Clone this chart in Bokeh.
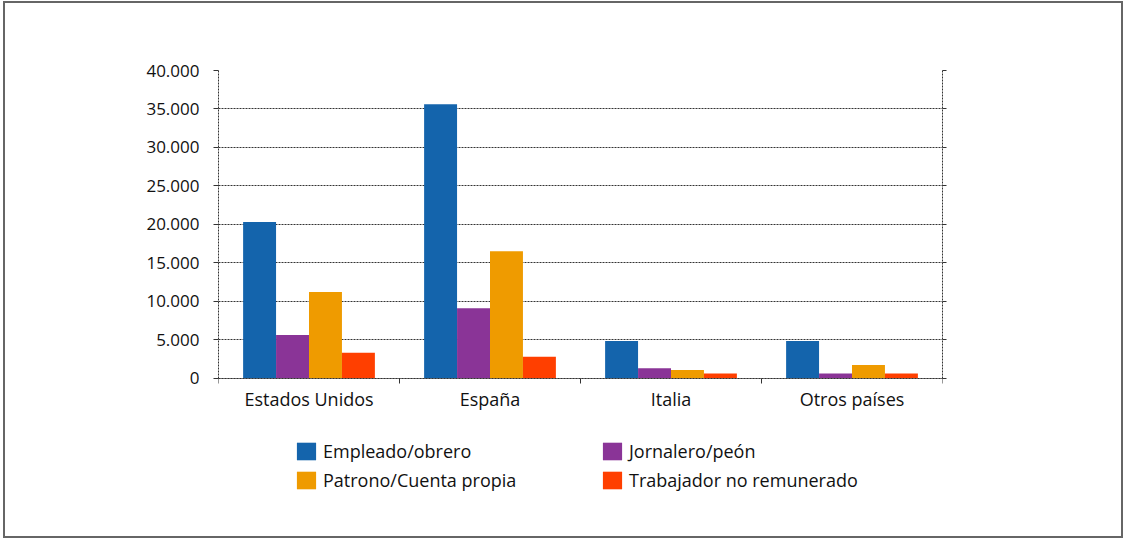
import numpy as np
from bokeh.plotting import figure
from bokeh.models import Range1d, FixedTicker, Legend, LegendItem, LinearAxis
from bokeh.embed import file_html
from bokeh.resources import INLINE

categories = ["Estados Unidos", "España", "Italia", "Otros países"]
series_names = ["Empleado/obrero", "Jornalero/peón", "Patrono/Cuenta propia", "Trabajador no remunerado"]
empleado = [20300, 35600, 4850, 4850]
jornalero = [5600, 9100, 1300, 600]
patrono = [11200, 16500, 1050, 1700]
trabajador = [3300, 2800, 600, 600]
y_ticks = [0, 5000, 10000, 15000, 20000, 25000, 30000, 35000, 40000]
y_tick_labels = ["0", "5.000", "10.000", "15.000", "20.000", "25.000", "30.000", "35.000", "40.000"]
colors = ["#1464AC", "#8A3497", "#EF9B00", "#FF3F00"]

FONT = "Open Sans"
Y_MAX = 40000
Y_MIN = -17200  # room below the axis for the legend inside the frame

p = figure(width=1120, height=537, output_backend="svg", toolbar_location=None,
           x_range=Range1d(0, 4), y_range=Range1d(Y_MIN, Y_MAX),
           min_border_left=213, min_border_right=183, min_border_top=67, min_border_bottom=30)
p.styles = {"border": "2px solid #666", "box-sizing": "border-box",
            "margin-left": "3px", "margin-top": "1px"}

bar_w = 0.182
offsets = [-1.5, -0.5, 0.5, 1.5]
base = np.arange(len(categories)) + 0.5
series = [empleado, jornalero, patrono, trabajador]
renderers = []
for vals, off, col in zip(series, offsets, colors):
    r = p.vbar(x=base + off * bar_w, top=vals, width=bar_w, bottom=0,
               fill_color=col, line_color=None)
    renderers.append(r)

# x axis at y = 0
p.xaxis.fixed_location = 0
p.xaxis.ticker = FixedTicker(ticks=list(base), minor_ticks=[0, 1, 2, 3, 4])
p.xaxis.major_label_overrides = {float(b): c for b, c in zip(base, categories)}
p.xaxis.major_tick_line_color = None
p.xaxis.minor_tick_out = 5
p.xaxis.minor_tick_in = 0
p.xaxis.minor_tick_line_color = "#333"
p.xaxis.axis_line_color = "#333"
p.xaxis.axis_line_dash = "2 1"
p.xaxis.major_label_text_font = FONT
p.xaxis.major_label_text_font_size = "18px"
p.xaxis.major_label_text_color = "#111"
p.xaxis.major_label_standoff = 3

# y axis
p.yaxis.bounds = (0, Y_MAX)
p.yaxis.ticker = FixedTicker(ticks=y_ticks)
p.yaxis.major_label_overrides = {t: l for t, l in zip(y_ticks, y_tick_labels)}
p.yaxis.minor_tick_line_color = None
p.yaxis.major_tick_out = 5
p.yaxis.major_tick_in = 0
p.yaxis.major_tick_line_color = "#333"
p.yaxis.axis_line_color = "#333"
p.yaxis.axis_line_dash = "2 1"
p.yaxis.major_label_text_font = FONT
p.yaxis.major_label_text_font_size = "17px"
p.yaxis.major_label_text_color = "#111"
p.yaxis.major_label_standoff = 14

# right border line of the plot area (unlabelled, small outward ticks)
right_axis = LinearAxis(bounds=(0, Y_MAX), ticker=FixedTicker(ticks=[], minor_ticks=y_ticks),
                        minor_tick_out=4, minor_tick_in=0, minor_tick_line_color="#333",
                        major_tick_line_color=None,
                        axis_line_color="#333", axis_line_dash="2 1")
p.add_layout(right_axis, "right")

p.xgrid.grid_line_color = None
p.ygrid.grid_line_color = "#333"
p.ygrid.grid_line_dash = "2 1"
p.ygrid.grid_line_width = 1

p.outline_line_color = None

# legend: two columns, filled column by column
order = [0, 2, 1, 3]
legend = Legend(items=[LegendItem(label=series_names[i], renderers=[renderers[i]]) for i in order],
                ncols=2, location=(76, 18), orientation="vertical",
                glyph_width=24, glyph_height=22, label_height=22, label_width=272,
                label_standoff=5, spacing=5, padding=0, margin=0,
                border_line_color=None, background_fill_alpha=0,
                label_text_font=FONT, label_text_font_size="18px", label_text_color="#111")
p.add_layout(legend, "center")

open("out.html", "w").write(file_html(p, INLINE))
